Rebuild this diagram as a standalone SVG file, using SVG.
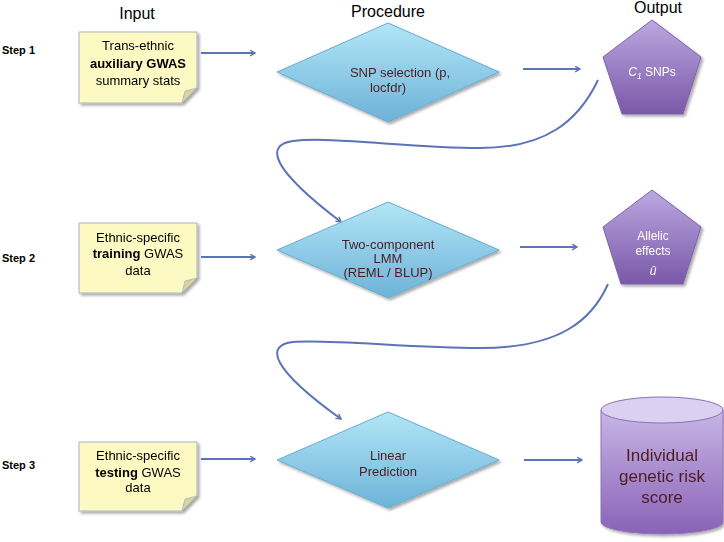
<svg xmlns="http://www.w3.org/2000/svg" width="724" height="542" viewBox="0 0 724 542">
<defs>
<linearGradient id="dia" x1="0" y1="0" x2="0" y2="1"><stop offset="0" stop-color="#b2e6f7"/><stop offset="1" stop-color="#6db2d8"/></linearGradient>
<linearGradient id="pur" x1="0" y1="0" x2="0" y2="1"><stop offset="0" stop-color="#bba8e0"/><stop offset="1" stop-color="#7a58a8"/></linearGradient>
<linearGradient id="cyl" x1="0" y1="0" x2="0" y2="1"><stop offset="0" stop-color="#c8b6e6"/><stop offset="1" stop-color="#8a62b6"/></linearGradient>
<filter id="sh" x="-10%" y="-10%" width="125%" height="125%"><feGaussianBlur in="SourceAlpha" stdDeviation="1.5"/><feOffset dx="1.5" dy="2" result="b"/><feComponentTransfer><feFuncA type="linear" slope="0.35"/></feComponentTransfer><feMerge><feMergeNode/><feMergeNode in="SourceGraphic"/></feMerge></filter>
<marker id="ah" viewBox="0 0 10 10" refX="8" refY="5" markerWidth="7" markerHeight="7" markerUnits="userSpaceOnUse" orient="auto"><path d="M1,1 L8,5 L1,9" fill="none" stroke="#5a74b6" stroke-width="2"/></marker>
</defs>
<style>
.hd{font-family:"Liberation Sans",Arial,sans-serif;font-size:16px;fill:#000;text-anchor:middle}
.st{font-family:"Liberation Sans",Arial,sans-serif;font-size:11px;font-weight:bold;fill:#000}
.nt{font-family:"Liberation Sans",Arial,sans-serif;font-size:13px;fill:#000;text-anchor:middle}
.dt{font-family:"Liberation Sans",Arial,sans-serif;font-size:13px;fill:#4e1c22;text-anchor:middle}
.pt{font-family:"Liberation Sans",Arial,sans-serif;font-size:12px;fill:#fff;text-anchor:middle}
.ct{font-family:"Liberation Sans",Arial,sans-serif;font-size:17px;fill:#4e1c22;text-anchor:middle}
.note{fill:#fcf9c2;stroke:#a9b3c6;stroke-width:1}
.ear{fill:#d8d49e;stroke:#a9b3c6;stroke-width:0.8}
.dia{fill:url(#dia);stroke:#68acd2;stroke-width:1}
.pen{fill:url(#pur);stroke:#7e62ae;stroke-width:1}
.con{fill:none;stroke:#5a74b6;stroke-width:2;marker-end:url(#ah)}
</style>
<rect width="724" height="542" fill="#fff"/>
<g id="headers">
<text class="hd" x="137" y="19">Input</text>
<text class="hd" x="388" y="17">Procedure</text>
<text class="hd" x="658" y="13">Output</text>
<text class="st" x="2" y="54">Step 1</text>
<text class="st" x="2" y="262">Step 2</text>
<text class="st" x="2" y="469">Step 3</text>
</g>
<g id="connectors">
<path class="con" d="M201,53 L255,53"/>
<path class="con" d="M523,69 L580,69"/>
<path class="con" d="M201,257 L255,257"/>
<path class="con" d="M520,247 L577,247"/>
<path class="con" d="M201,459 L255,459"/>
<path class="con" d="M524,460 L582,460"/>
<path class="con" d="M598,80 C578,122 545,148 480,148 C410,148 330,136 293,141 C265,145 270,168 341,222"/>
<path class="con" d="M608,284 C592,320 560,348 480,348 C410,348 330,339 293,342 C265,345 270,368 341,419"/>
</g>
<g id="note1" filter="url(#sh)">
<path class="note" d="M79,32 H197 V88 L182,103 H79 Z"/>
<path class="ear" d="M197,88 L182,103 L185,91 Z"/>
<text class="nt" x="138" y="50">Trans-ethnic</text>
<text class="nt" x="138" y="68" font-weight="bold">auxiliary GWAS</text>
<text class="nt" x="138" y="85">summary stats</text>
</g>
<g id="note2" filter="url(#sh)">
<path class="note" d="M79,223 H197 V278 L182,293 H79 Z"/>
<path class="ear" d="M197,278 L182,293 L185,281 Z"/>
<text class="nt" x="138" y="242">Ethnic-specific</text>
<text class="nt" x="138" y="258"><tspan font-weight="bold">training</tspan> GWAS</text>
<text class="nt" x="138" y="275">data</text>
</g>
<g id="note3" filter="url(#sh)">
<path class="note" d="M79,442 H197 V496 L182,511 H79 Z"/>
<path class="ear" d="M197,496 L182,511 L185,499 Z"/>
<text class="nt" x="138" y="460">Ethnic-specific</text>
<text class="nt" x="138" y="477"><tspan font-weight="bold">testing</tspan> GWAS</text>
<text class="nt" x="138" y="492">data</text>
</g>
<g id="diamond1" filter="url(#sh)">
<path class="dia" d="M388,23 L499,72 L388,122 L277,72 Z"/>
<text class="dt" x="400" y="77" font-size="13.5">SNP selection (p,</text>
<text class="dt" x="388" y="92" font-size="13.5">locfdr)</text>
</g>
<g id="diamond2" filter="url(#sh)">
<path class="dia" d="M388,202 L499,250 L388,298 L277,250 Z"/>
<text class="dt" x="388" y="249">Two-component</text>
<text class="dt" x="388" y="263">LMM</text>
<text class="dt" x="388" y="277">(REML / BLUP)</text>
</g>
<g id="diamond3" filter="url(#sh)">
<path class="dia" d="M388,412 L499,460 L388,508 L277,460 Z"/>
<text class="dt" x="388" y="460">Linear</text>
<text class="dt" x="388" y="476">Prediction</text>
</g>
<g id="pentagon1" filter="url(#sh)">
<path class="pen" d="M652,20 L701,57 L683,114 L622,114 L603,57 Z"/>
<text class="pt" x="652" y="76"><tspan font-style="italic">C</tspan><tspan font-style="italic" font-size="8.5" dy="3">1</tspan><tspan dy="-3"> SNPs</tspan></text>
</g>
<g id="pentagon2" filter="url(#sh)">
<path class="pen" d="M652,190 L701,227 L683,284 L621,284 L603,227 Z"/>
<text class="pt" x="653" y="240">Allelic</text>
<text class="pt" x="653" y="255">effects</text>
<text class="pt" x="653" y="275" font-family="'Liberation Serif',serif" font-style="italic" font-size="16">û</text>
</g>
<g id="cylinder" filter="url(#sh)">
<path d="M601,410 V522 A61,12 0 0 0 723,522 V410 Z" fill="url(#cyl)" stroke="#8d72b8" stroke-width="1"/>
<ellipse cx="662" cy="410" rx="61" ry="13" fill="#dcd0f0" stroke="#8d72b8" stroke-width="1"/>
<text class="ct" x="662" y="461">Individual</text>
<text class="ct" x="662" y="482">genetic risk</text>
<text class="ct" x="662" y="503">score</text>
</g>
</svg>
